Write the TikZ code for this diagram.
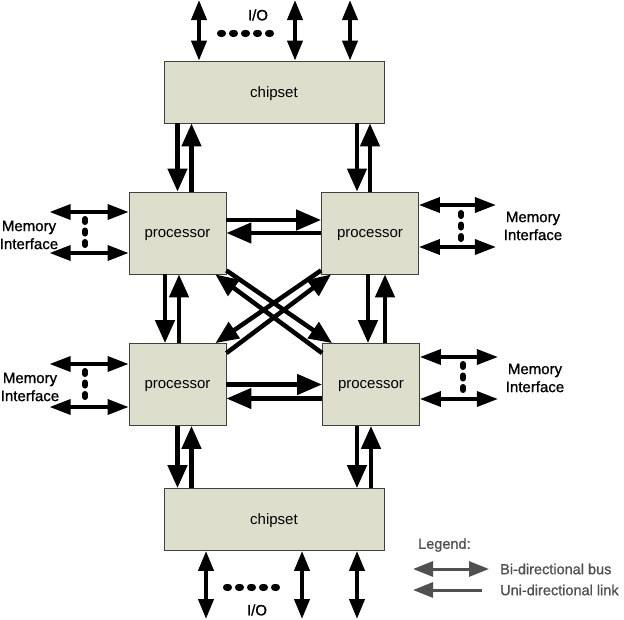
\documentclass[tikz,border=0pt]{standalone}
\usepackage{fontspec}
\setmainfont{Liberation Sans}
\newfontfamily\heavyfont[FakeBold=1]{Liberation Sans}
\usetikzlibrary{arrows.meta,calc}
\definecolor{boxfill}{RGB}{221,222,204}
\definecolor{legendgray}{RGB}{80,80,80}
\begin{document}
\begin{tikzpicture}[x=1pt,y=-1pt,
  box/.style={draw=black!75, line width=0.8pt, fill=boxfill, inner sep=0pt,
    font=\fontsize{15}{18}\selectfont, text depth=-2pt},
  chip/.style={box, minimum width=220pt, minimum height=62pt},
  proc/.style={box, minimum width=97pt, minimum height=82pt},
  link/.style={line width=4.5pt, -{Triangle[length=23pt,width=19pt]}},
  hlink/.style={line width=4.5pt, -{Triangle[length=25pt,width=20pt]}},
  iobus/.style={line width=4pt, {Triangle[length=20pt,width=15pt]}-{Triangle[length=20pt,width=15pt]}},
  membus/.style={line width=3.5pt, {Triangle[length=21pt,width=15pt]}-{Triangle[length=21pt,width=15pt]}},
  dotline/.style={line width=7pt, line cap=round, dash pattern=on 2pt off 10pt},
  vdots/.style={line width=6pt, line cap=round, dash pattern=on 3pt off 8.5pt},
  memtxt/.style={align=center, font=\heavyfont\fontsize{15}{18}\selectfont, inner sep=0pt},
  iotxt/.style={font=\heavyfont\fontsize{15}{18}\selectfont, inner sep=0pt},
  lgtxt/.style={anchor=west, text=legendgray, font=\heavyfont\fontsize{14.5}{17}\selectfont, inner sep=0pt},
  lbus/.style={draw=legendgray, line width=3pt, {Triangle[length=20pt,width=15pt]}-{Triangle[length=20pt,width=15pt]}},
  luni/.style={draw=legendgray, line width=3pt, -{Triangle[length=20pt,width=15pt]}}
]
\useasboundingbox (0,0) rectangle (624,619);

% boxes
\node[chip] (chipT) at (274,92) {chipset};
\node[proc] (TL) at (177.5,233) {processor};
\node[proc] (TR) at (370,233) {processor};
\node[proc] (BL) at (177.5,384.5) {processor};
\node[proc] (BR) at (371,384.5) {processor};
\node[chip] (chipB) at (274,519.5) {chipset};

% top I/O
\coordinate (io1) at (199,0);
\coordinate (io2) at (295,0);
\coordinate (io3) at (350,0);
\draw[iobus] (io1) -- (io1 |- chipT.north);
\draw[iobus] (io2) -- (io2 |- chipT.north);
\draw[iobus] (io3) -- (io3 |- chipT.north);
\coordinate (d1a) at (220.5,33);
\coordinate (d1b) at (271.5,33);
\draw[dotline] (d1a) -- (d1b);
\node[iotxt] (ioT) at (258,15) {I/O};

% bottom I/O
\coordinate (ib1) at (206,619);
\coordinate (ib2) at (302,619);
\coordinate (ib3) at (357,619);
\draw[iobus] (ib1 |- chipB.south) -- (ib1);
\draw[iobus] (ib2 |- chipB.south) -- (ib2);
\draw[iobus] (ib3 |- chipB.south) -- (ib3);
\coordinate (d2a) at (226.5,587);
\coordinate (d2b) at (277.5,587);
\draw[dotline] (d2a) -- (d2b);
\node[iotxt] (ioB) at (257,610) {I/O};

% chipset <-> processors (top)
\draw[link] (TL.north |- chipT.south) -- (TL.north);
\draw[link] ($(TL.north)+(14,0)$) -- ($(TL.north |- chipT.south)+(14,0)$);
\draw[link] ($(TR.north |- chipT.south)+(-13,0)$) -- ($(TR.north)+(-13,0)$);
\draw[link] (TR.north) -- (TR.north |- chipT.south);

% chipset <-> processors (bottom)
\draw[link] (BL.south) -- (BL.south |- chipB.north);
\draw[link] ($(BL.south |- chipB.north)+(14,0)$) -- ($(BL.south)+(14,0)$);
\draw[link] ($(BR.south)+(-14,0)$) -- ($(BR.south |- chipB.north)+(-14,0)$);
\draw[link] (BR.south |- chipB.north) -- (BR.south);

% processor verticals
\draw[link] ($(TL.south)+(-12.5,0)$) -- ($(BL.north)+(-12.5,0)$);
\draw[link] ($(BL.north)+(1.5,0)$) -- ($(TL.south)+(1.5,0)$);
\draw[link] ($(TR.south)+(-2,0)$) -- ($(BR.north)+(-3,0)$);
\draw[link] ($(BR.north)+(14,0)$) -- ($(TR.south)+(15,0)$);

% processor horizontals
\draw[hlink] ($(TL.east)+(0,-13)$) -- ($(TR.west)+(0,-13)$);
\draw[hlink] (TR.west) -- (TL.east);
\draw[hlink] (BL.east) -- (BR.west);
\draw[hlink] ($(BR.west)+(0,14)$) -- ($(BL.east)+(0,14)$);

% diagonals
\draw[link] ($(TL.south east)+(0,-4)$) -- ($(BR.north west)+(10,0)$);
\draw[link] ($(BR.north west)+(0,10)$) -- ($(TL.south east)+(-11,0)$);
\draw[link] ($(TR.south west)+(0,-4)$) -- ($(BL.north east)+(-11,0)$);
\draw[link] ($(BL.north east)+(0,10)$) -- ($(TR.south west)+(10,0)$);

% memory interfaces
\draw[membus] ($(TL.west)+(-79,-21)$) -- ($(TL.west)+(0,-21)$);
\draw[membus] ($(TL.west)+(-79,20)$) -- ($(TL.west)+(0,20)$);
\draw[vdots] (85,219) -- (85,247);
\node[memtxt] (mTL) at (29,235) {Memory\\Interface};

\draw[membus] ($(BL.west)+(-79,-20.5)$) -- ($(BL.west)+(0,-20.5)$);
\draw[membus] ($(BL.west)+(-79,22.5)$) -- ($(BL.west)+(0,22.5)$);
\draw[vdots] (85,371) -- (85,399);
\node[memtxt] (mBL) at (30,387) {Memory\\Interface};

\draw[membus] ($(TR.east)+(0,-28)$) -- ($(TR.east)+(77,-28)$);
\draw[membus] ($(TR.east)+(0,14)$) -- ($(TR.east)+(77,14)$);
\draw[vdots] (461,213) -- (461,241);
\node[memtxt] (mTR) at (533,226) {Memory\\Interface};

\draw[membus] ($(BR.east)+(0,-27.5)$) -- ($(BR.east)+(78,-27.5)$);
\draw[membus] ($(BR.east)+(0,14.5)$) -- ($(BR.east)+(78,14.5)$);
\draw[vdots] (463,364) -- (463,392);
\node[memtxt] (mBR) at (535,378) {Memory\\Interface};

% legend
\node[lgtxt] (lg) at (418,545) {Legend:};
\coordinate (lb1) at (413,569);
\coordinate (lb2) at (489,569);
\draw[lbus] (lb1) -- (lb2);
\node[lgtxt] (lbt) at (500,569) {Bi-directional bus};
\coordinate (lu1) at (482,590);
\coordinate (lu2) at (413,590);
\draw[luni] (lu1) -- (lu2);
\node[lgtxt] (lut) at (500,590) {Uni-directional link};
\end{tikzpicture}
\end{document}
